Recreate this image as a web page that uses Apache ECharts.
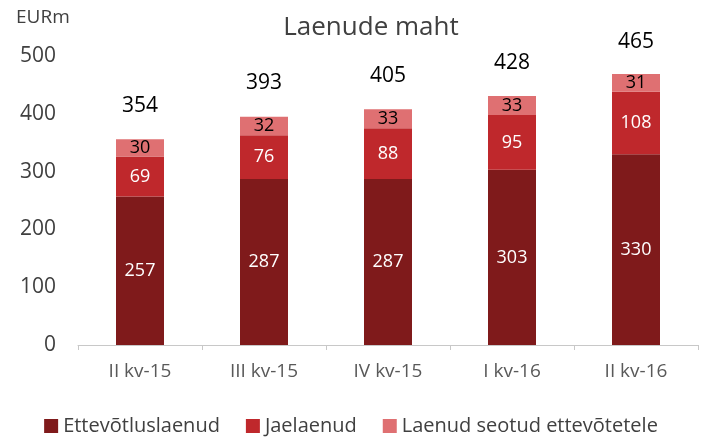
<!DOCTYPE html>
<html>
<head>
<meta charset="utf-8">
<script src="https://cdn.jsdelivr.net/npm/echarts@6/dist/echarts.min.js"></script>
<style>
  html, body { margin: 0; padding: 0; background: #fff; }
  #chart { width: 702px; height: 437px; }
</style>
</head>
<body>
<div id="chart"></div>
<script>
// Laenude maht, EURm
const categories = ['II kv-15', 'III kv-15', 'IV kv-15', 'I kv-16', 'II kv-16'];
const ettevotlus = [257, 287, 287, 303, 330];
const jae = [69, 76, 88, 95, 108];
const seotud = [30, 32, 33, 33, 31];
const totals = [354, 393, 405, 428, 465];

const FONT = '"Open Sans", "Noto Sans", sans-serif';

const chart = echarts.init(document.getElementById('chart'));

const segLabel = (color) => ({
  show: true,
  position: 'inside',
  color: color,
  fontSize: 18,
  fontFamily: FONT
});

chart.setOption({
  animation: false,
  textStyle: { fontFamily: FONT },
  title: {
    text: 'Laenude maht',
    left: 366,
    top: 10,
    textAlign: 'center',
    textStyle: { fontSize: 26, fontWeight: 'normal', color: '#404040', fontFamily: FONT }
  },
  graphic: [{
    type: 'text',
    left: 16,
    top: 8,
    style: { text: 'EURm', fontSize: 19, fill: '#404040', fontFamily: FONT }
  }],
  legend: {
    top: 411,
    left: 'center',
    itemWidth: 14,
    itemHeight: 14,
    itemGap: 26,
    icon: 'rect',
    textStyle: { fontSize: 20, color: '#404040', fontFamily: FONT },
    data: ['Ettevõtluslaenud', 'Jaelaenud', 'Laenud seotud ettevõtetele']
  },
  grid: { left: 78, right: 4, top: 56, bottom: 92 },
  xAxis: {
    type: 'category',
    data: categories,
    axisLine: { lineStyle: { color: '#c8c8c8' } },
    axisTick: { show: true, length: 5, lineStyle: { color: '#c8c8c8' } },
    axisLabel: { fontSize: 19, color: '#595959', margin: 17, fontFamily: FONT }
  },
  yAxis: {
    type: 'value',
    min: 0,
    max: 500,
    interval: 100,
    splitLine: { show: false },
    axisLine: { show: false },
    axisTick: { show: false },
    axisLabel: { fontSize: 21, color: '#404040', margin: 22, fontFamily: FONT }
  },
  series: [
    {
      name: 'Ettevõtluslaenud',
      type: 'bar',
      stack: 'total',
      barWidth: 48,
      data: ettevotlus,
      itemStyle: { color: '#7f1a1b' },
      label: segLabel('#ffffff')
    },
    {
      name: 'Jaelaenud',
      type: 'bar',
      stack: 'total',
      data: jae,
      itemStyle: { color: '#bf282c' },
      label: segLabel('#ffffff')
    },
    {
      name: 'Laenud seotud ettevõtetele',
      type: 'bar',
      stack: 'total',
      data: seotud,
      itemStyle: { color: '#df7072' },
      label: segLabel('#000000')
    },
    {
      name: 'Kokku',
      type: 'line',
      data: totals,
      symbol: 'circle',
      symbolSize: 2,
      showSymbol: true,
      itemStyle: { color: 'rgba(0,0,0,0)' },
      lineStyle: { width: 0, opacity: 0 },
      silent: true,
      label: {
        show: true,
        position: 'top',
        distance: 23,
        fontSize: 21,
        color: '#000000',
        fontFamily: FONT
      }
    }
  ]
});
</script>
</body>
</html>
